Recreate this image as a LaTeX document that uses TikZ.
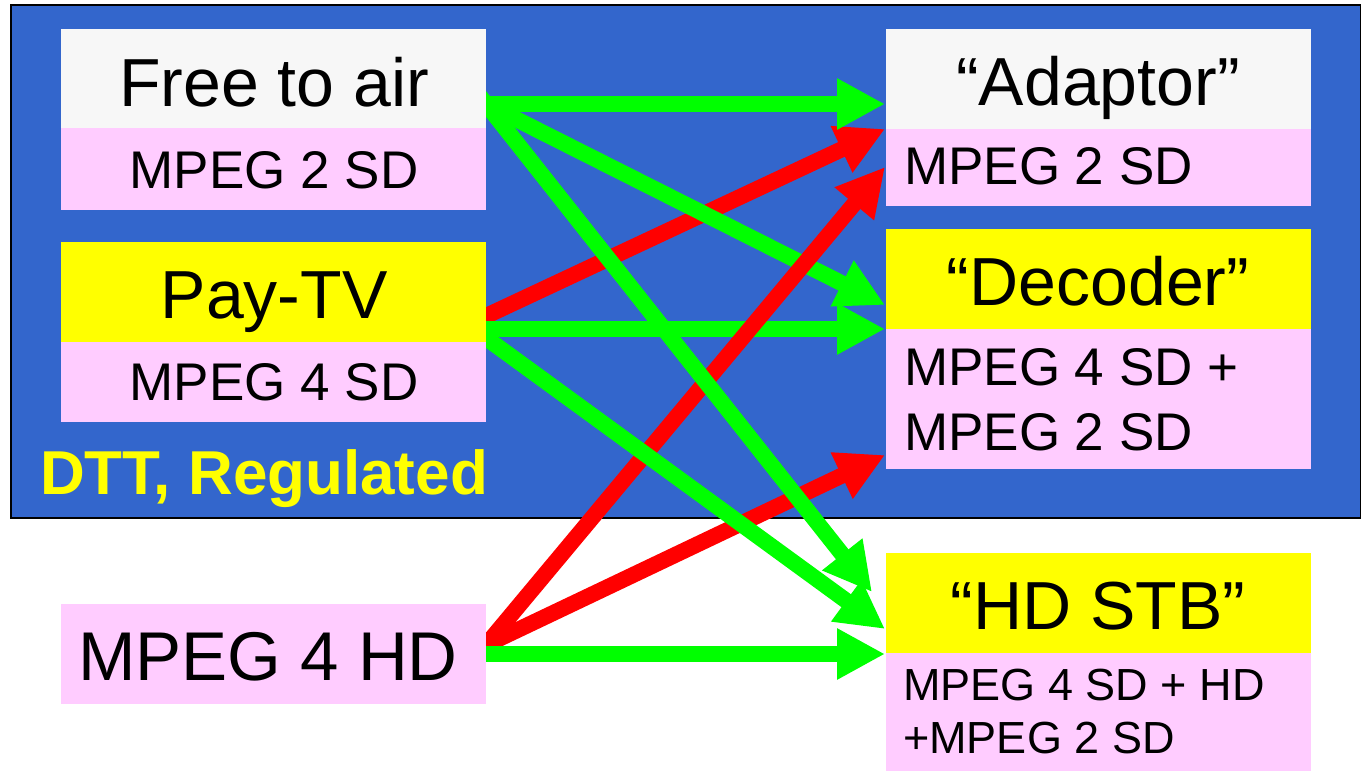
\documentclass[tikz,border=0pt]{standalone}
\usepackage{fontspec}
\setmainfont{Liberation Sans}
\usetikzlibrary{arrows.meta,calc}
\definecolor{bgblue}{HTML}{3366CC}
\definecolor{pinkbox}{HTML}{FFCCFF}
\definecolor{graybox}{HTML}{F7F7F7}
\definecolor{yelbox}{HTML}{FFFF00}
\definecolor{arrgreen}{HTML}{00FF00}
\definecolor{arrred}{HTML}{FF0000}
\tikzset{
  box/.style={draw=none, inner sep=0pt, outer sep=0pt, anchor=north west, minimum width=425pt},
  titletext/.style={inner sep=0pt, anchor=base, font=\fontsize{68}{80}\selectfont},
  subtext/.style={inner sep=0pt, font=\fontsize{53}{65}\selectfont},
  smalltext/.style={inner sep=0pt, font=\fontsize{45}{53}\selectfont},
  conn/.style={line width=16pt, -{Triangle[length=48pt,width=48pt]}},
  yes/.style={conn, draw=arrgreen},
  no/.style={conn, draw=arrred},
}
\begin{document}
\begin{tikzpicture}[x=1pt,y=-1pt]
\useasboundingbox (0,0) rectangle (1361,771);
\fill[white] (0,0) rectangle (1361,771);
% regulated DTT area
\fill[black!30] (12,7) rectangle (1361,519);
\node[draw=black, line width=2pt, fill=bgblue, anchor=north west, inner sep=0pt,
      minimum width=1350pt, minimum height=513pt] (dtt) at (10,4) {};
\node[inner sep=0pt, anchor=base west, text=yelbox, font=\fontsize{62}{70}\selectfont\bfseries] (dttlabel) at (40,494) {DTT, Regulated};
% connector end points
\coordinate (ftaO) at (486,104);
\coordinate (payR) at (486,316);
\coordinate (payG) at (486,329);
\coordinate (payH) at (486,338);
\coordinate (hdR) at (486,645);
\coordinate (hdG) at (486,654);
\coordinate (adaG) at (885,104);
\coordinate (adaR1) at (885,129);
\coordinate (adaR2) at (885,167);
\coordinate (decG1) at (885,305);
\coordinate (decG2) at (885,329);
\coordinate (decR) at (885,455);
\coordinate (stbG1) at (872,592);
\coordinate (stbG2) at (885,629);
\coordinate (stbG3) at (885,654);
% connectors (their start ends run under the source boxes)
\draw[no] ($(payR)!-20pt!(adaR1)$) -- (adaR1);
\draw[yes] ($(ftaO)!-20pt!(adaG)$) -- (adaG);
\draw[yes] ($(ftaO)!-20pt!(decG1)$) -- (decG1);
\draw[yes] ($(payG)!-20pt!(decG2)$) -- (decG2);
\draw[no] ($(hdR)!-20pt!(adaR2)$) -- (adaR2);
\draw[no] ($(hdR)!-20pt!(decR)$) -- (decR);
\draw[yes] ($(ftaO)!-20pt!(stbG1)$) -- (stbG1);
\draw[yes] ($(payH)!-20pt!(stbG2)$) -- (stbG2);
\draw[yes] ($(hdG)!-20pt!(stbG3)$) -- (stbG3);
% left boxes
\node[box, fill=graybox, minimum height=99pt] (fta) at (61,29) {};
\node[box, fill=pinkbox, minimum height=82pt] (ftasub) at (61,128) {};
\node[titletext] (ftat) at (274,106) {Free to air};
\node[subtext, anchor=base] (ftas) at (274,188) {MPEG 2 SD};
\node[box, fill=yelbox, minimum height=100pt] (pay) at (61,242) {};
\node[box, fill=pinkbox, minimum height=80pt] (paysub) at (61,342) {};
\node[titletext] (payt) at (274,318) {Pay-TV};
\node[subtext, anchor=base] (pays) at (274,400) {MPEG 4 SD};
\node[box, fill=pinkbox, minimum height=100pt] (hd) at (61,604) {};
\node[inner sep=0pt, anchor=base west, font=\fontsize{69}{80}\selectfont] (hdt) at (78,680) {MPEG 4 HD};
% right boxes
\node[box, fill=graybox, minimum height=100pt] (ada) at (886,29) {};
\node[box, fill=pinkbox, minimum height=77pt] (adasub) at (886,129) {};
\node[titletext] (adat) at (1098,105) {“Adaptor”};
\node[subtext, anchor=base west] (adas) at (904,184) {MPEG 2 SD};
\node[box, fill=yelbox, minimum height=100pt] (dec) at (886,229) {};
\node[box, fill=pinkbox, minimum height=140pt] (decsub) at (886,329) {};
\node[titletext] (dect) at (1098,305) {“Decoder”};
\node[subtext, anchor=base west] (decs1) at (904,385) {MPEG 4 SD +};
\node[subtext, anchor=base west] (decs2) at (904,450) {MPEG 2 SD};
\node[box, fill=yelbox, minimum height=100pt] (stb) at (886,553) {};
\node[box, fill=pinkbox, minimum height=118pt] (stbsub) at (886,653) {};
\node[titletext] (stbt) at (1098,629) {“HD STB”};
\node[smalltext, anchor=base west] (stbs1) at (903,700) {MPEG 4 SD + HD};
\node[smalltext, anchor=base west] (stbs2) at (903,753) {+MPEG 2 SD};
\end{tikzpicture}
\end{document}
